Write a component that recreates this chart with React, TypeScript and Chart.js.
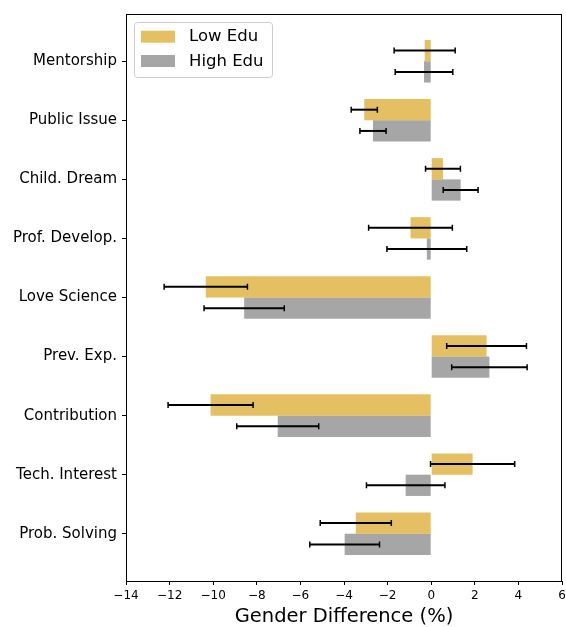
import React, { useEffect, useRef } from 'react';
import { Chart, registerables } from 'chart.js';

Chart.register(...registerables);

const categories = [
  'Mentorship',
  'Public Issue',
  'Child. Dream',
  'Prof. Develop.',
  'Love Science',
  'Prev. Exp.',
  'Contribution',
  'Tech. Interest',
  'Prob. Solving',
];
const seriesLabels = ['Low Edu', 'High Edu'];
const lowEdu = [-0.3, -3.07, 0.54, -0.95, -10.34, 2.54, -10.12, 1.9, -3.46];
const lowEduErr = [1.4, 0.6, 0.8, 1.92, 1.91, 1.83, 1.95, 1.93, 1.63];
const highEdu = [-0.33, -2.67, 1.35, -0.2, -8.58, 2.67, -7.04, -1.17, -3.97];
const highEduErr = [1.32, 0.6, 0.8, 1.83, 1.84, 1.73, 1.88, 1.8, 1.6];
const xMin = -14;
const xMax = 6;
const xStep = 2;
const xTitle = 'Gender Difference (%)';

const FONT = "'DejaVu Sans', sans-serif";
const LOW_COLOR = 'rgba(218,165,32,0.7)';
const HIGH_COLOR = 'rgba(128,128,128,0.7)';

const errorBarPlugin = {
  id: 'errorBars',
  afterDatasetsDraw(chart: any) {
    const ctx = chart.ctx;
    const xs = chart.scales.x;
    chart.data.datasets.forEach((ds: any, i: number) => {
      const meta = chart.getDatasetMeta(i);
      const errs: number[] = ds.errors || [];
      meta.data.forEach((el: any, j: number) => {
        const v = ds.data[j].x;
        const e = errs[j];
        if (e == null) return;
        const x1 = xs.getPixelForValue(v - e);
        const x2 = xs.getPixelForValue(v + e);
        const y = el.y;
        ctx.save();
        ctx.strokeStyle = '#000';
        ctx.lineWidth = 2;
        ctx.beginPath();
        ctx.moveTo(x1, y);
        ctx.lineTo(x2, y);
        ctx.stroke();
        ctx.lineWidth = 1.5;
        ctx.beginPath();
        ctx.moveTo(x1, y - 3);
        ctx.lineTo(x1, y + 3);
        ctx.moveTo(x2, y - 3);
        ctx.lineTo(x2, y + 3);
        ctx.stroke();
        ctx.restore();
      });
    });
  },
};

const framePlugin = {
  id: 'frameAndLegend',
  afterDraw(chart: any) {
    const ctx = chart.ctx;
    const a = chart.chartArea;
    ctx.save();
    ctx.strokeStyle = '#000';
    ctx.lineWidth = 1;
    ctx.strokeRect(Math.round(a.left) + 0.5, Math.round(a.top) + 0.5, Math.round(a.right - a.left) - 1, Math.round(a.bottom - a.top));
    ctx.restore();

    // legend
    const bx = a.left + 8;
    const by = a.top + 8;
    const bw = 138;
    const bh = 55;
    ctx.save();
    ctx.fillStyle = 'rgba(255,255,255,0.8)';
    ctx.strokeStyle = '#cccccc';
    ctx.lineWidth = 1;
    ctx.beginPath();
    (ctx as any).roundRect(bx + 0.5, by + 0.5, bw, bh, 3);
    ctx.fill();
    ctx.stroke();
    const colors = [LOW_COLOR, HIGH_COLOR];
    seriesLabels.forEach((lab, i) => {
      const cy = by + 14.7 + i * 24.3;
      ctx.fillStyle = colors[i];
      ctx.fillRect(bx + 7, cy - 6, 34, 12);
      ctx.fillStyle = '#000';
      ctx.font = `16.5px ${FONT}`;
      ctx.textBaseline = 'middle';
      ctx.textAlign = 'left';
      ctx.fillText(lab, bx + 55, cy + 0.5);
    });
    ctx.restore();
  },
};

export default function App() {
  const ref = useRef<HTMLCanvasElement | null>(null);

  useEffect(() => {
    if (!ref.current) return;
    const chart = new Chart(ref.current, {
      type: 'bar',
      data: {
        datasets: [
          {
            label: seriesLabels[0],
            data: lowEdu.map((v, i) => ({ x: v, y: i })),
            backgroundColor: LOW_COLOR,
            borderWidth: 0,
            categoryPercentage: 0.72,
            barPercentage: 1,
            errors: lowEduErr,
          } as any,
          {
            label: seriesLabels[1],
            data: highEdu.map((v, i) => ({ x: v, y: i })),
            backgroundColor: HIGH_COLOR,
            borderWidth: 0,
            categoryPercentage: 0.72,
            barPercentage: 1,
            errors: highEduErr,
          } as any,
        ],
      },
      options: {
        indexAxis: 'y',
        responsive: false,
        animation: false,
        devicePixelRatio: 1,
        layout: { padding: { top: 14, right: 4, left: 0, bottom: 0 } },
        plugins: {
          legend: { display: false },
          tooltip: { enabled: false },
        },
        scales: {
          x: {
            type: 'linear',
            min: xMin,
            max: xMax,
            offset: false,
            ticks: {
              stepSize: xStep,
              font: { family: FONT, size: 12 },
              color: '#000',
              padding: 4,
              maxRotation: 0,
              callback: (v: any) => (v < 0 ? '\u2212' + Math.abs(v) : String(v)),
            },
            grid: { drawOnChartArea: false, drawTicks: true, tickLength: 4, color: '#000', offset: false },
            border: { display: true, color: '#000' },
            title: {
              display: true,
              text: xTitle,
              font: { family: FONT, size: 19.5, lineHeight: 1 },
              color: '#000',
              padding: 0,
            },
            afterFit: (scale: any) => {
              scale.height = 46;
              scale.paddingLeft = 0;
              scale.paddingRight = 0;
            },
          },
          y: {
            type: 'linear',
            reverse: true,
            offset: false,
            min: -0.8,
            max: categories.length - 1 + 0.8,
            afterBuildTicks: (scale: any) => {
              scale.ticks = categories.map((_, i) => ({ value: i }));
            },
            ticks: {
              autoSkip: false,
              font: { family: FONT, size: 15 },
              color: '#000',
              padding: 5,
              callback: (v: any) => categories[v] ?? '',
            },
            grid: { drawOnChartArea: false, drawTicks: true, tickLength: 4, color: '#000', offset: false },
            border: { display: true, color: '#000' },
            afterFit: (scale: any) => {
              scale.width = 126;
              scale.paddingTop = 0;
              scale.paddingBottom = 0;
            },
          },
        },
      } as any,
      plugins: [errorBarPlugin, framePlugin],
    });
    return () => chart.destroy();
  }, []);

  return (
    <div style={{ position: 'absolute', left: 0, top: 0, width: 566, height: 627 }}>
      <canvas ref={ref} width={566} height={627} style={{ width: 566, height: 627 }} />
    </div>
  );
}
